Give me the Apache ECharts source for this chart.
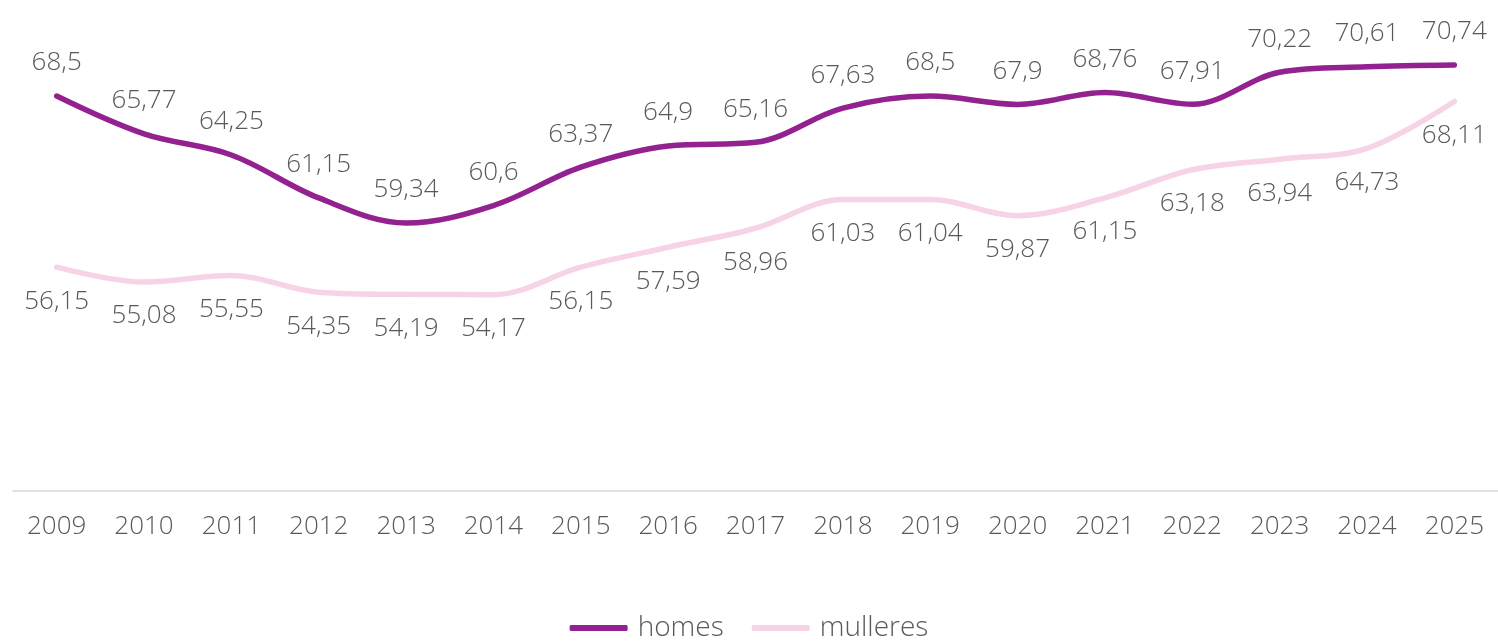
<!DOCTYPE html>
<html>
<head>
<meta charset="utf-8">
<script src="https://cdn.jsdelivr.net/npm/echarts@6/dist/echarts.min.js"></script>
<style>
  html, body { margin: 0; padding: 0; background: #fff; }
  #chart { width: 1498px; height: 643px; }
</style>
</head>
<body>
<div id="chart"></div>
<script>
const years = ["2009", "2010", "2011", "2012", "2013", "2014", "2015", "2016", "2017",
    "2018", "2019", "2020", "2021", "2022", "2023", "2024", "2025"];
const homes = [68.5, 65.77, 64.25, 61.15, 59.34, 60.6, 63.37, 64.9, 65.16,
    67.63, 68.5, 67.9, 68.76, 67.91, 70.22, 70.61, 70.74];
const mulleres = [56.15, 55.08, 55.55, 54.35, 54.19, 54.17, 56.15, 57.59, 58.96,
    61.03, 61.04, 59.87, 61.15, 63.18, 63.94, 64.73, 68.11];

const textColor = "#595959";
const fontFamily = "'Open Sans', sans-serif";
const fontSize = 26;
const fmt = (p) => String(p.value).replace(".", ",");

const chart = echarts.init(document.getElementById("chart"));

chart.setOption({
    animation: false,
    textStyle: { fontFamily: fontFamily, fontWeight: 300 },
    grid: { top: 6, left: 13, right: 0, bottom: 152 },
    legend: {
        bottom: -4,
        left: "center",
        itemWidth: 58,
        itemHeight: 6,
        itemGap: 28,
        textStyle: {
            fontSize: 28,
            color: textColor,
            fontFamily: fontFamily,
            fontWeight: 300,
            padding: [0, 0, 0, 5],
        },
        data: [
            { name: "homes", icon: "roundRect" },
            { name: "mulleres", icon: "roundRect" },
        ],
    },
    xAxis: {
        type: "category",
        data: years,
        boundaryGap: true,
        axisLine: { lineStyle: { color: "#d9d9d9", width: 1.5 } },
        axisTick: { show: false },
        axisLabel: { color: textColor, fontSize: fontSize, fontWeight: 300, margin: 23 },
    },
    yAxis: {
        type: "value",
        min: 40,
        max: 75,
        show: false,
        splitLine: { show: false },
    },
    series: [
        {
            name: "homes",
            type: "line",
            data: homes,
            smooth: 0.35,
            symbol: "circle",
            symbolSize: 0,
            showSymbol: true,
            color: "#93218f",
            lineStyle: { width: 5.5, cap: "round" },
            label: {
                show: true,
                position: "top",
                distance: 20,
                fontSize: fontSize,
                fontWeight: 300,
                color: textColor,
                formatter: fmt,
            },
        },
        {
            name: "mulleres",
            type: "line",
            data: mulleres,
            smooth: 0.35,
            symbol: "circle",
            symbolSize: 0,
            showSymbol: true,
            color: "#f7d3e7",
            lineStyle: { width: 5.5, cap: "round" },
            label: {
                show: true,
                position: "bottom",
                distance: 21,
                fontSize: fontSize,
                fontWeight: 300,
                color: textColor,
                formatter: fmt,
            },
        },
    ],
});
</script>
</body>
</html>
